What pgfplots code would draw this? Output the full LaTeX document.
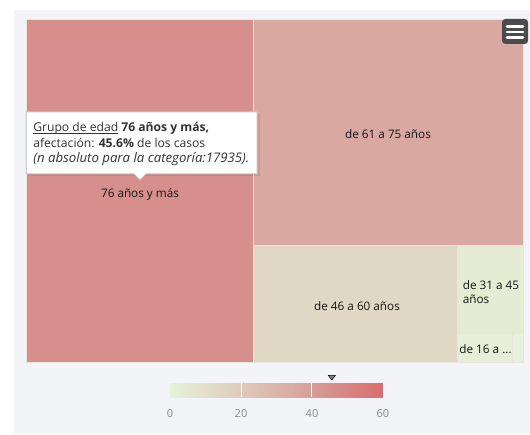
\documentclass[border=0pt]{standalone}
\usepackage{fontspec}
\setmainfont{Open Sans}
\usepackage{pgfplots}
\pgfplotsset{compat=1.18}
\definecolor{bgpanel}{RGB}{242,244,248}
\definecolor{cellborder}{RGB}{232,228,226}
\definecolor{txt}{RGB}{51,51,51}
\definecolor{lbl}{RGB}{20,20,20}
\definecolor{ticktxt}{RGB}{135,135,135}
\definecolor{menu}{RGB}{75,75,75}
\definecolor{tipborder}{RGB}{195,195,195}
\newcommand{\ul}[1]{\setbox0\hbox{#1}\rlap{\rule[-1.4pt]{\wd0}{0.55pt}}\box0\relax}
\pgfplotsset{colormap={edad}{rgb255(0pt)=(232,241,217) rgb255(14pt)=(224,215,196) rgb255(35.8pt)=(217,168,160) rgb255(45.6pt)=(214,143,139) rgb255(60pt)=(218,108,110)}}
\begin{document}
\begin{tikzpicture}
\fill[white] (-19.5pt,-53.25pt) rectangle (378pt,272.25pt);
\fill[bgpanel] (-9pt,-53.25pt) rectangle (378pt,264.75pt);
\begin{axis}[at={(0pt,0pt)}, anchor=south west, scale only axis,
  width=372.75pt, height=257.25pt,
  xmin=0, xmax=497, ymin=0, ymax=343,
  hide axis, clip=false,
  colormap name=edad, point meta min=0, point meta max=60]
% treemap cells: rectangle corners, value = share of cases (%)
\addplot[patch, patch type=rectangle, shader=faceted, faceted color=cellborder,
  line width=0.75pt, point meta=explicit] coordinates {
  (0,0) [45.6] (227,0) [45.6] (227,343) [45.6] (0,343) [45.6]
  (227,117) [35.8] (497,117) [35.8] (497,343) [35.8] (227,343) [35.8]
  (227,0) [14.0] (431,0) [14.0] (431,117) [14.0] (227,117) [14.0]
  (431,29) [3.4] (497,29) [3.4] (497,117) [3.4] (431,117) [3.4]
  (431,0) [0.9] (486,0) [0.9] (486,29) [0.9] (431,29) [0.9]
  (486,0) [0.2] (497,0) [0.2] (497,29) [0.2] (486,29) [0.2]
};
\begin{scope}[font=\fontsize{8.8}{10.6}\selectfont, text=lbl]
\node at (axis cs:114,169) {76 años y más};
\node at (axis cs:362,228.5) {de 61 a 75 años};
\node at (axis cs:331,57) {de 46 a 60 años};
\node[align=left, inner sep=0pt] at (axis cs:465,71) {de 31 a 45\\años};
\node[inner sep=0pt] at (axis cs:459.5,13.5) {de 16 a ...};
\end{scope}
% tooltip
\fill[black, opacity=0.08] (axis cs:2,187) rectangle (axis cs:234,249);
\draw[tipborder, fill=white, line width=0.75pt] (axis cs:0,189) -- (axis cs:108,189) -- (axis cs:114,183) -- (axis cs:120,189) -- (axis cs:231,189) -- (axis cs:231,251) -- (axis cs:0,251) -- cycle;
\begin{scope}[font=\fontsize{9.1}{11}\selectfont, text=txt, inner sep=0pt]
\node[anchor=base west] at (axis cs:7,231) {\ul{Grupo de edad} \textbf{76 años y más,}};
\node[anchor=base west] at (axis cs:7,215.5) {afectación: \textbf{45.6\%} de los casos};
\node[anchor=base west, font=\fontsize{9.9}{11}\selectfont] at (axis cs:7,200) {\textit{(n absoluto para la categoría:17935).}};
\end{scope}
% menu button
\fill[menu, rounded corners=2.5pt] (axis cs:476,319) rectangle (axis cs:502,344);
\draw[white, line width=2.2pt, line cap=round] (axis cs:481,325.5) -- (axis cs:497,325.5);
\draw[white, line width=2.2pt, line cap=round] (axis cs:481,331) -- (axis cs:497,331);
\draw[white, line width=2.2pt, line cap=round] (axis cs:481,336.5) -- (axis cs:497,336.5);
\end{axis}
\begin{axis}[at={(108pt,-25.5pt)}, anchor=south west, scale only axis,
  width=159.75pt, height=10.5pt,
  xmin=0, xmax=60, ymin=0, ymax=1,
  axis line style={draw=none}, tick style={draw=none},
  ytick=\empty, xtick={0,20,40,60},
  xticklabel style={font=\fontsize{8.3}{9}\selectfont, text=ticktxt},
  xticklabel shift=6pt,
  /pgf/number format/assume math mode=true,
  clip=false, colormap name=edad, point meta min=0, point meta max=60]
\addplot[patch, patch type=rectangle, shader=interp, point meta=explicit] coordinates {
  (0,0) [0] (60,0) [60] (60,1) [60] (0,1) [0]
};
\addplot[white, line width=0.75pt] coordinates {(20,0) (20,1)};
\addplot[white, line width=0.75pt] coordinates {(40,0) (40,1)};
\addplot[only marks, mark=triangle*, mark size=3pt,
  mark options={rotate=180, yscale=0.75, fill=gray, draw=none}] coordinates {(45.6,1.43)};
\end{axis}
\pgfresetboundingbox
\useasboundingbox (-19.5pt,-53.25pt) rectangle (378pt,272.25pt);
\end{tikzpicture}
\end{document}
